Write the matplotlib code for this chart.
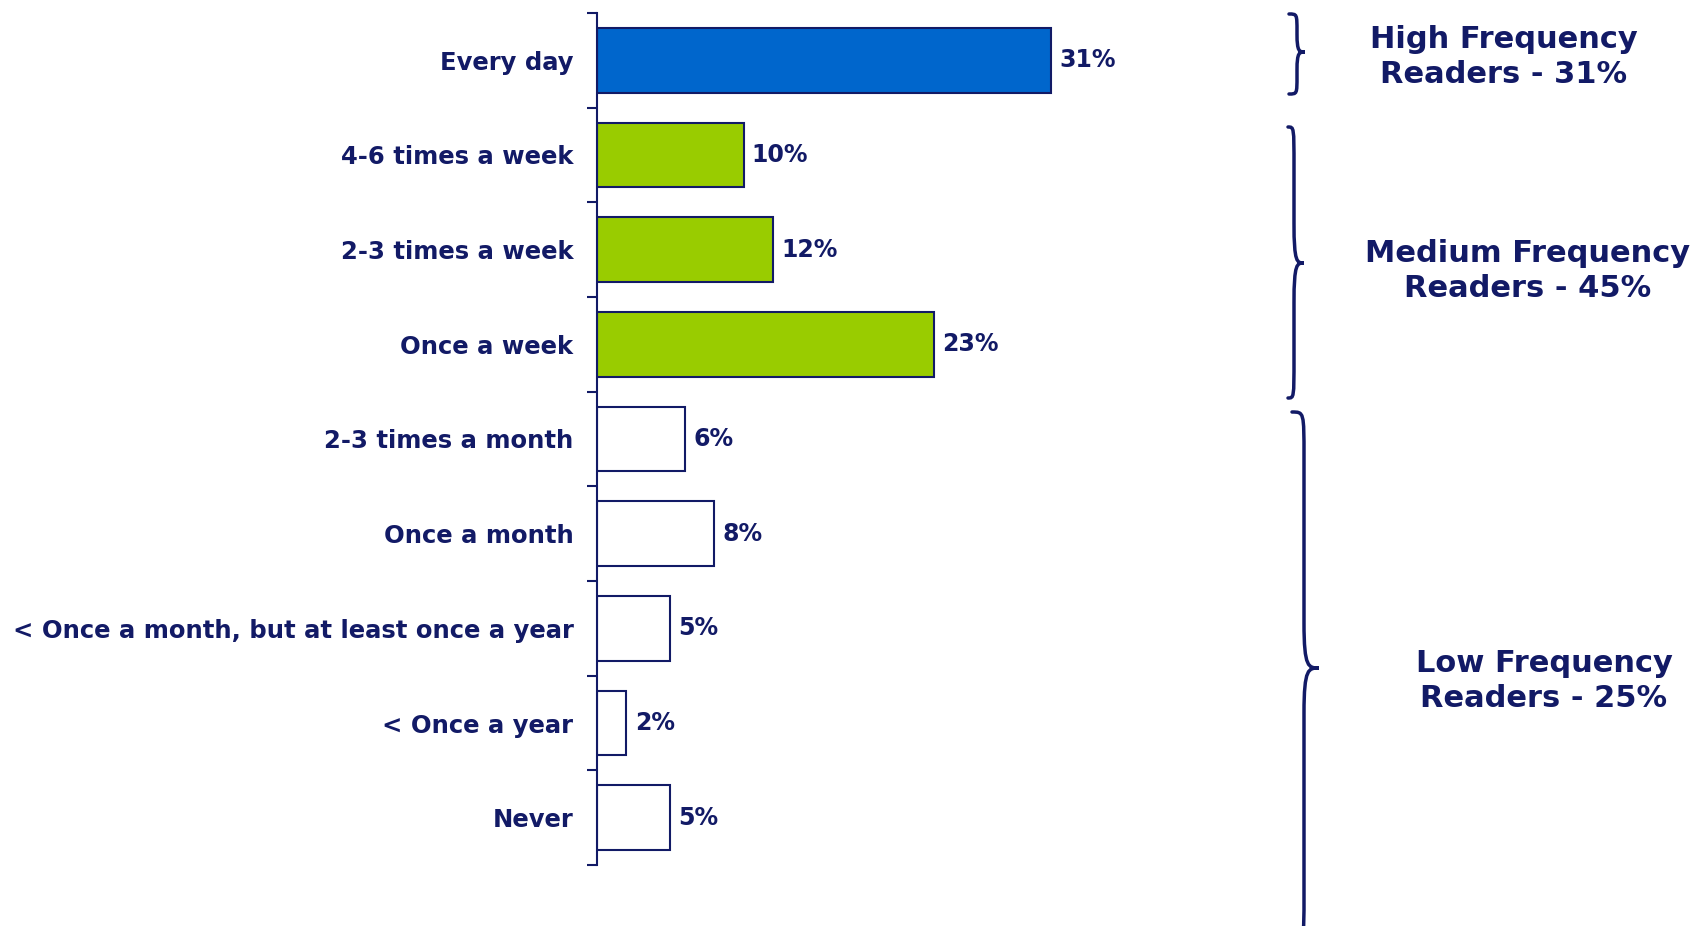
import numpy as np
import matplotlib
matplotlib.use("Agg")
import matplotlib.pyplot as plt
from matplotlib.path import Path
from matplotlib.patches import PathPatch

navy = "#121a66"

categories = ["Every day", "4-6 times a week", "2-3 times a week", "Once a week",
              "2-3 times a month", "Once a month",
              "< Once a month, but at least once a year", "< Once a year", "Never"]
shares = [31, 10, 12, 23, 6, 8, 5, 2, 5]
bar_colors = ["#0066cc", "#99cc00", "#99cc00", "#99cc00",
              "white", "white", "white", "white", "white"]

group_labels = ["High Frequency\nReaders - 31%",
                "Medium Frequency\nReaders - 45%",
                "Low Frequency\nReaders - 25%"]

W, H = 1696, 926
fig = plt.figure(figsize=(W / 100, H / 100), dpi=100)
ax = fig.add_axes([597 / W, 61 / H, 586 / W, 852 / H])

y = np.arange(len(categories))
ax.barh(y, shares, height=0.68, color=bar_colors, edgecolor=navy, linewidth=1.5)
ax.set_xlim(0, 40)
ax.set_ylim(len(categories) - 0.5, -0.5)

for yi, v in zip(y, shares):
    ax.annotate(f"{v}%", (v, yi), xytext=(6, 0), textcoords="offset points",
                ha="left", va="center", fontsize=17, fontweight="bold", color=navy)

ax.set_yticks(y)
ax.set_yticklabels(categories, fontsize=17.5, fontweight="bold", color=navy)
ax.set_yticks(np.arange(len(categories) + 1) - 0.5, minor=True)
ax.tick_params(axis="y", which="major", length=0, pad=17)
ax.tick_params(axis="y", which="minor", length=7, width=1.5, color=navy)
ax.set_xticks([])
for side in ["top", "right", "bottom"]:
    ax.spines[side].set_visible(False)
ax.spines["left"].set_color(navy)
ax.spines["left"].set_linewidth(1.5)

# overlay in pixel coords for the braces and group captions
ov = fig.add_axes([0, 0, 1, 1])
ov.set_xlim(0, W)
ov.set_ylim(H, 0)
ov.axis("off")


def brace(x0, ytop, ybot, ymid, hook=13, depth=16, r=30):
    verts = [(x0 - hook, ytop),
             (x0, ytop), (x0, ytop), (x0, ytop + r),
             (x0, ymid - r),
             (x0, ymid), (x0 + depth * 0.3, ymid), (x0 + depth, ymid),
             (x0 + depth * 0.3, ymid), (x0, ymid), (x0, ymid + r),
             (x0, ybot - r),
             (x0, ybot), (x0, ybot), (x0 - hook, ybot)]
    codes = [Path.MOVETO,
             Path.CURVE4, Path.CURVE4, Path.CURVE4,
             Path.LINETO,
             Path.CURVE4, Path.CURVE4, Path.CURVE4,
             Path.CURVE4, Path.CURVE4, Path.CURVE4,
             Path.LINETO,
             Path.CURVE4, Path.CURVE4, Path.CURVE4]
    ov.add_patch(PathPatch(Path(verts, codes), fill=False, edgecolor=navy,
                           linewidth=2.5, capstyle="round"))


brace(1297, 14, 94, 52, hook=8, depth=8, r=18)
brace(1294, 127, 398, 263, hook=6, depth=10, r=40)
brace(1304, 412, 940, 668, hook=12, depth=15, r=45)

label_pos = [(1504, 57), (1528, 271), (1544, 681)]
for (lx, ly), txt in zip(label_pos, group_labels):
    ov.text(lx, ly, txt, ha="center", va="center", fontsize=22, fontweight="bold",
            color=navy, linespacing=1.28)

fig.savefig("out.png", dpi=100)
